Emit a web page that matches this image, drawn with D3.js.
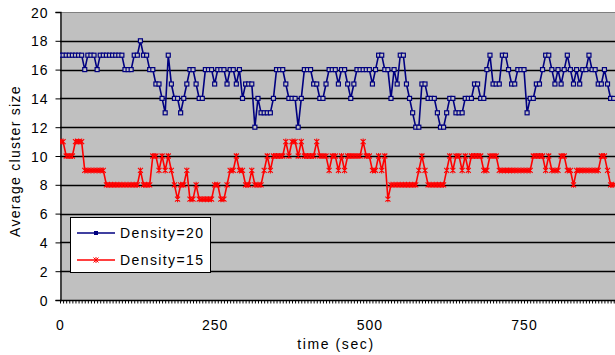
<!DOCTYPE html>
<html><head><meta charset="utf-8">
<script src="https://cdn.jsdelivr.net/npm/d3@7"></script>
<style>body{margin:0;background:#fff}svg{display:block}text{font-family:Arial,"Liberation Sans",sans-serif}</style>
</head><body><svg id="c" width="615" height="355"></svg>
<script>
const timeStep = 5;
const density20 = [
17,17,17,17,17,17,17,17,16,17,
17,17,16,17,17,17,17,17,17,17,
17,16,16,16,17,17,18,17,17,16,
16,15,15,14,13,17,15,14,14,13,
14,15,16,16,15,14,14,16,16,16,
15,16,16,16,15,16,16,15,16,14,
15,15,15,12,14,13,13,13,13,14,
16,16,16,15,14,14,14,12,14,16,
16,16,15,15,14,14,15,16,16,16,
15,16,16,15,14,15,16,16,16,16,
16,15,16,17,17,16,16,14,16,15,
17,17,15,14,13,12,12,15,15,14,
14,14,13,12,12,13,14,14,13,13,
13,14,14,14,15,15,14,14,16,17,
15,15,15,17,17,16,15,15,16,16,
16,13,14,14,15,15,16,17,17,16,
15,16,15,16,17,16,15,16,15,16,
16,17,16,16,15,15,16,15,14,14];
const density15 = [
11,11,10,10,10,11,11,11,9,9,
9,9,9,9,9,8,8,8,8,8,
8,8,8,8,8,8,9,8,8,8,
10,10,9,10,9,10,9,8,7,8,
8,9,7,7,8,7,7,7,7,7,
8,8,7,7,8,9,9,10,9,9,
8,8,9,8,8,8,9,10,9,10,
10,10,10,11,10,11,11,10,11,10,
10,10,10,11,10,10,10,9,10,10,
9,10,9,10,10,10,10,10,11,10,
10,9,9,10,9,10,7,8,8,8,
8,8,8,8,8,8,9,10,9,8,
8,8,8,8,8,9,10,9,10,10,
9,10,9,10,10,10,10,9,9,10,
10,10,9,9,9,9,9,9,9,9,
9,9,9,10,10,10,10,9,10,9,
9,9,10,10,9,9,8,9,9,9,
9,9,9,9,9,10,10,9,8,8];
const yTicks = [0,2,4,6,8,10,12,14,16,18,20];
const xTicks = [0,250,500,750];
const seriesNames = ["Density=20","Density=15"];

const svg = d3.select("#c");
const L = 60, T = 12, B = 300, pxPerUnit = (524-60)/750;
const x = d3.scaleLinear().domain([0,900]).range([L, L + 900*pxPerUnit]);
const y = d3.scaleLinear().domain([0,20]).range([B, T]);
const W = 615 - L;

svg.append("defs").append("clipPath").attr("id","clip")
  .append("rect").attr("x",L).attr("y",T-4).attr("width",W).attr("height",B-T+8);

svg.append("rect").attr("x",L).attr("y",T).attr("width",W).attr("height",B-T).attr("fill","#c0c0c0");
svg.append("line").attr("x1",L).attr("x2",615).attr("y1",T+0.5).attr("y2",T+0.5).attr("stroke","#808080");

// gridlines
svg.append("g").selectAll("line").data(yTicks.filter(d=>d>0&&d<20)).join("line")
  .attr("x1",L).attr("x2",615).attr("y1",d=>Math.round(y(d))+0.5).attr("y2",d=>Math.round(y(d))+0.5)
  .attr("stroke","#000").attr("stroke-width",1.3);

// y axis
const ya = svg.append("g").attr("transform",`translate(${L+0.5},0)`)
  .call(d3.axisLeft(y).tickValues(yTicks).tickSize(5).tickFormat(d3.format("d")));
ya.select(".domain").attr("stroke","#000").attr("stroke-width",1.3);
ya.selectAll("text").attr("font-size","14px").attr("fill","#000").attr("x",-12).attr("letter-spacing","1px").attr("dy","0.36em");

// x axis with dense minor ticks
const minor = d3.range(0, 900, timeStep);
const xa = svg.append("g").attr("transform",`translate(0,${B+0.5})`)
  .call(d3.axisBottom(x).tickValues(minor).tickSize(3).tickFormat(""));
xa.select(".domain").remove();
xa.selectAll(".tick line").attr("stroke","#000");
svg.append("line").attr("x1",L).attr("x2",615).attr("y1",B+0.5).attr("y2",B+0.5).attr("stroke","#000").attr("stroke-width",1.3);
svg.append("g").selectAll("text").data(xTicks).join("text")
  .attr("x",d=>x(d)+0.5).attr("y",B+30).attr("text-anchor","middle").attr("font-size","14px").attr("letter-spacing","1px").text(d=>d);

// labels
svg.append("text").attr("x",336).attr("y",349).attr("text-anchor","middle").attr("font-size","14px").attr("letter-spacing","1.6px").text("time (sec)");
svg.append("text").attr("transform","translate(20,161) rotate(-90)").attr("text-anchor","middle").attr("font-size","14px").attr("letter-spacing","1.3px").text("Average cluster size");

const line = d3.line().x((d,i)=>x(i*timeStep)).y(d=>y(d));
const g = svg.append("g").attr("clip-path","url(#clip)");

// blue series
g.append("path").datum(density20).attr("d",line).attr("fill","none").attr("stroke","#000080").attr("stroke-width",1.6);
g.selectAll("rect.m").data(density20).join("rect").attr("class","m")
  .attr("x",(d,i)=>x(i*timeStep)-2).attr("y",d=>y(d)-2).attr("width",4).attr("height",4)
  .attr("fill","#c0c0c0").attr("stroke","#000080").attr("stroke-width",1.2);

// red series
g.append("path").datum(density15).attr("d",line).attr("fill","none").attr("stroke","#ff0000").attr("stroke-width",1.6);
const star = (cx,cy)=>`M${cx-2.5},${cy-2.5}L${cx+2.5},${cy+2.5}M${cx-2.5},${cy+2.5}L${cx+2.5},${cy-2.5}M${cx},${cy-3}L${cx},${cy+3}`;
g.selectAll("path.s").data(density15).join("path").attr("class","s")
  .attr("d",(d,i)=>star(x(i*timeStep),y(d))).attr("stroke","#ff0000").attr("stroke-width",1.1).attr("fill","none");

// legend
const lg = svg.append("g");
lg.append("rect").attr("x",70.5).attr("y",217.5).attr("width",140).attr("height",55).attr("fill","#fff").attr("stroke","#000");
const items = [{name:seriesNames[0],c:"#000080",yy:233},{name:seriesNames[1],c:"#ff0000",yy:260}];
items.forEach((it,k)=>{
  lg.append("line").attr("x1",77).attr("x2",115).attr("y1",it.yy).attr("y2",it.yy).attr("stroke",it.c).attr("stroke-width",1.5);
  if(k===0) lg.append("rect").attr("x",94).attr("y",it.yy-2).attr("width",4).attr("height",4).attr("fill",it.c);
  else lg.append("path").attr("d",star(96,it.yy)).attr("stroke",it.c).attr("fill","none");
  lg.append("text").attr("x",120).attr("y",it.yy+5).attr("font-size","14px").attr("letter-spacing","1.4px").text(it.name);
});
</script></body></html>
